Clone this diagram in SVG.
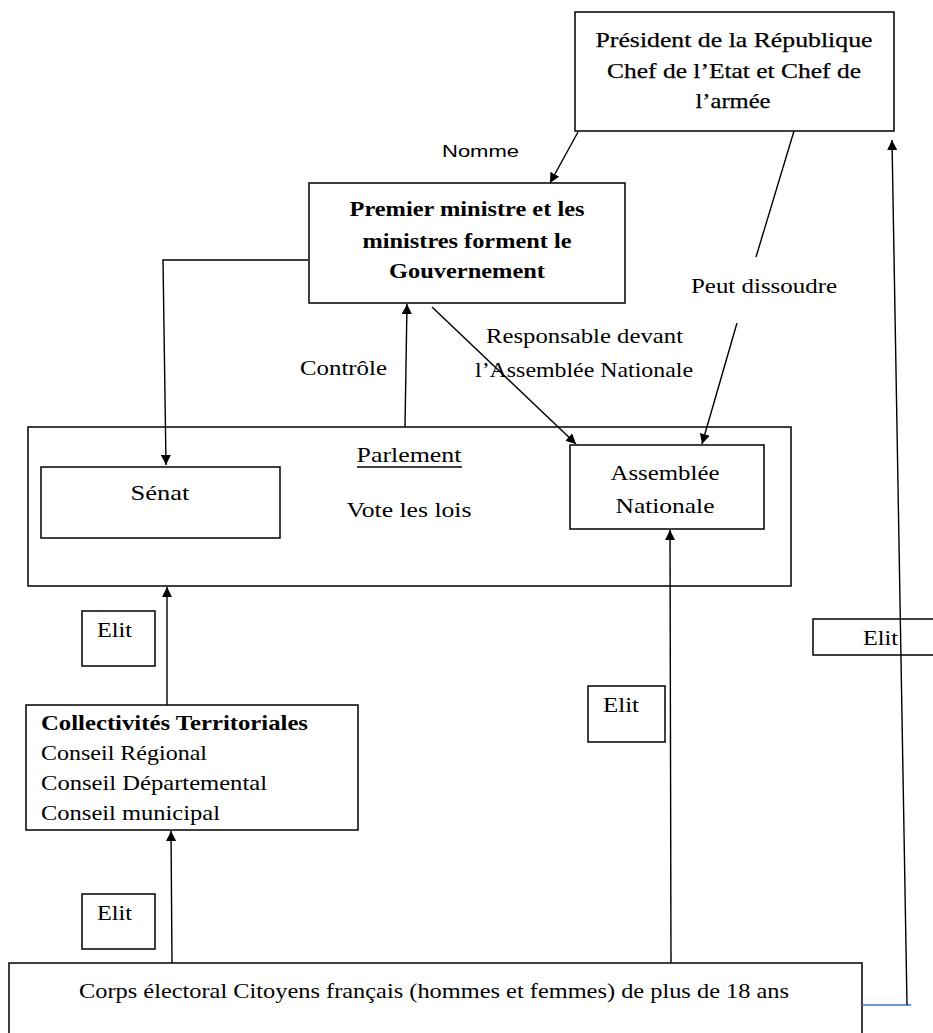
<svg xmlns="http://www.w3.org/2000/svg" width="933" height="1033" viewBox="0 0 933 1033">
<defs>
<marker id="ah" viewBox="0 0 10 10" refX="10" refY="5" markerWidth="10" markerHeight="10" markerUnits="userSpaceOnUse" orient="auto">
<path d="M0,0 L10,5 L0,10 z" fill="#000"/>
</marker>
<style>
.box{fill:#fff;stroke:#000;stroke-width:1.5}
.t{font-family:"Liberation Serif","Times New Roman",serif;font-size:21px;fill:#000}
.b{font-weight:bold}
.m{stroke:#000;stroke-width:0.25}
.s{font-family:"Liberation Sans",Arial,sans-serif;font-size:17px;fill:#000}
.c{fill:none;stroke:#000;stroke-width:1.4}
</style>
</defs>
<rect width="933" height="1033" fill="#fff"/>

<g id="parlement">
<rect class="box" x="28" y="427" width="763" height="159"/>
<text class="t" x="409" y="462" text-anchor="middle" textLength="105" lengthAdjust="spacingAndGlyphs">Parlement</text>
<line x1="357" y1="467" x2="462" y2="467" stroke="#000" stroke-width="1.5"/>
<text class="t" x="409" y="517" text-anchor="middle" textLength="125" lengthAdjust="spacingAndGlyphs">Vote les lois</text>
</g>

<g id="senat">
<rect class="box" x="41" y="467" width="239" height="71"/>
<text class="t" x="160" y="500" text-anchor="middle" textLength="59" lengthAdjust="spacingAndGlyphs">Sénat</text>
</g>

<g id="assemblee">
<rect class="box" x="570" y="445" width="194" height="84"/>
<text class="t" x="665" y="480" text-anchor="middle" textLength="109" lengthAdjust="spacingAndGlyphs">Assemblée</text>
<text class="t" x="665" y="513" text-anchor="middle" textLength="99" lengthAdjust="spacingAndGlyphs">Nationale</text>
</g>

<g id="president">
<rect class="box" x="575" y="12" width="319" height="119"/>
<text class="t m" x="734" y="47" text-anchor="middle" textLength="277" lengthAdjust="spacingAndGlyphs">Président de la République</text>
<text class="t m" x="734" y="78" text-anchor="middle" textLength="254" lengthAdjust="spacingAndGlyphs">Chef de l’Etat et Chef de</text>
<text class="t m" x="733" y="108" text-anchor="middle" textLength="75" lengthAdjust="spacingAndGlyphs">l’armée</text>
</g>

<g id="gouvernement">
<rect class="box" x="309" y="183" width="316" height="120"/>
<text class="t b" x="467" y="216" text-anchor="middle" textLength="235" lengthAdjust="spacingAndGlyphs">Premier ministre et les</text>
<text class="t b" x="467" y="248" text-anchor="middle" textLength="209" lengthAdjust="spacingAndGlyphs">ministres forment le</text>
<text class="t b" x="467" y="278" text-anchor="middle" textLength="156" lengthAdjust="spacingAndGlyphs">Gouvernement</text>
</g>

<g id="collectivites">
<rect class="box" x="26" y="705" width="332" height="125"/>
<text class="t b" x="41" y="730" textLength="267" lengthAdjust="spacingAndGlyphs">Collectivités Territoriales</text>
<text class="t" x="41" y="760" textLength="166" lengthAdjust="spacingAndGlyphs">Conseil Régional</text>
<text class="t" x="41" y="790" textLength="226" lengthAdjust="spacingAndGlyphs">Conseil Départemental</text>
<text class="t" x="41" y="820" textLength="179" lengthAdjust="spacingAndGlyphs">Conseil municipal</text>
</g>

<g id="corps">
<rect class="box" x="9" y="963" width="853" height="90"/>
<text class="t" x="79" y="998" textLength="710" lengthAdjust="spacingAndGlyphs">Corps électoral Citoyens français (hommes et femmes) de plus de 18 ans</text>
</g>

<g id="elit1">
<rect class="box" x="82" y="611" width="73" height="55"/>
<text class="t" x="97" y="637" textLength="35" lengthAdjust="spacingAndGlyphs">Elit</text>
</g>
<g id="elit2">
<rect class="box" x="588" y="686" width="77" height="56"/>
<text class="t" x="603" y="712" textLength="36" lengthAdjust="spacingAndGlyphs">Elit</text>
</g>
<g id="elit3">
<rect class="box" x="813" y="619" width="130" height="36"/>
<text class="t" x="863" y="645" textLength="35" lengthAdjust="spacingAndGlyphs">Elit</text>
</g>
<g id="elit4">
<rect class="box" x="82" y="894" width="73" height="55"/>
<text class="t" x="97" y="920" textLength="35" lengthAdjust="spacingAndGlyphs">Elit</text>
</g>

<g id="labels">
<text class="s" x="442" y="157" textLength="77" lengthAdjust="spacingAndGlyphs">Nomme</text>
<text class="t" x="300" y="375" textLength="87" lengthAdjust="spacingAndGlyphs">Contrôle</text>
<text class="t" x="486" y="343" textLength="197" lengthAdjust="spacingAndGlyphs">Responsable devant</text>
<text class="t" x="475" y="377" textLength="218" lengthAdjust="spacingAndGlyphs">l’Assemblée Nationale</text>
<text class="t" x="691" y="293" textLength="146" lengthAdjust="spacingAndGlyphs">Peut dissoudre</text>
</g>

<g id="connectors">
<line class="c" x1="578" y1="132" x2="550" y2="183" marker-end="url(#ah)"/>
<polyline class="c" points="308,260 163,260 166,465" marker-end="url(#ah)"/>
<line class="c" x1="405" y1="427" x2="407" y2="304" marker-end="url(#ah)"/>
<line class="c" x1="432" y1="307" x2="576" y2="444" marker-end="url(#ah)"/>
<line class="c" x1="794" y1="131" x2="756" y2="257"/>
<line class="c" x1="737" y1="323" x2="702" y2="444" marker-end="url(#ah)"/>
<line class="c" x1="172" y1="963" x2="171" y2="831" marker-end="url(#ah)"/>
<line class="c" x1="167" y1="705" x2="167" y2="587" marker-end="url(#ah)"/>
<line class="c" x1="671" y1="963" x2="670" y2="530" marker-end="url(#ah)"/>
<line x1="862" y1="1005" x2="911" y2="1005" stroke="#4472c4" stroke-width="1.5"/>
<line class="c" x1="907" y1="1005" x2="892" y2="140" marker-end="url(#ah)"/>
</g>
</svg>
